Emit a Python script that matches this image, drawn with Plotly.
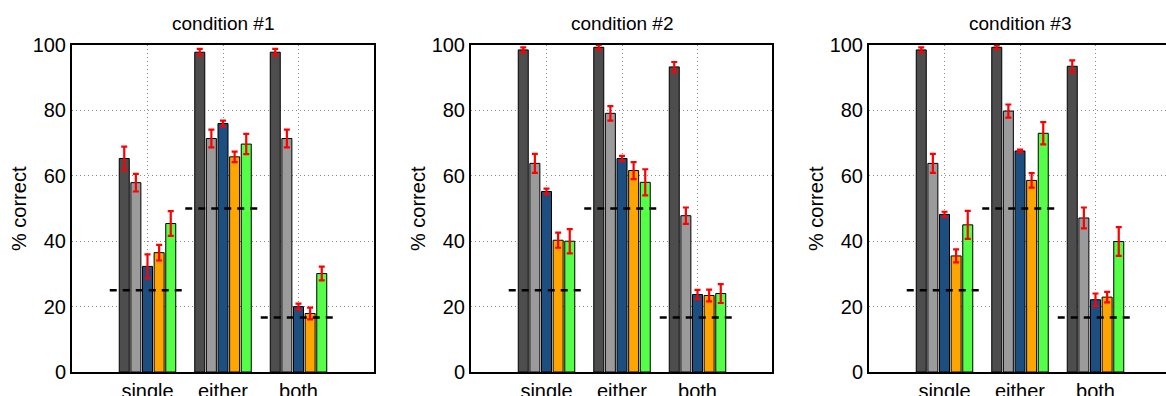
import plotly.graph_objects as go

categories = ["single", "either", "both"]
chance = [25, 50, 16.7]
titles = ["condition #1", "condition #2", "condition #3"]
series_names = ["model A", "model B", "model C", "model D", "model E"]
colors = ["#4d4d4d", "#9b9b9b", "#1d4e80", "#ffa500", "#55ff47"]

# condition 1
c1_vals = [
    [65.3, 97.8, 97.8],
    [57.9, 71.4, 71.4],
    [32.3, 76.0, 20.0],
    [36.5, 65.8, 17.9],
    [45.4, 69.7, 30.1],
]
c1_err = [
    [3.6, 1.0, 1.0],
    [2.7, 2.7, 2.7],
    [3.7, 0.9, 0.9],
    [2.4, 1.6, 1.8],
    [3.8, 3.1, 2.1],
]
# condition 2
c2_vals = [
    [98.5, 99.3, 93.3],
    [63.8, 79.1, 47.8],
    [55.2, 65.3, 23.7],
    [40.3, 61.6, 23.4],
    [40.0, 58.0, 24.0],
]
c2_err = [
    [0.8, 0.7, 1.5],
    [2.9, 2.2, 2.5],
    [0.9, 0.8, 1.4],
    [2.3, 2.6, 1.8],
    [3.7, 4.0, 2.9],
]
# condition 3
c3_vals = [
    [98.5, 99.3, 93.5],
    [63.8, 79.8, 47.1],
    [48.2, 67.6, 22.1],
    [35.5, 58.6, 22.9],
    [45.0, 73.0, 39.9],
]
c3_err = [
    [0.8, 0.6, 1.8],
    [2.9, 2.0, 3.2],
    [0.8, 0.4, 1.9],
    [2.0, 2.2, 1.6],
    [4.3, 3.4, 4.4],
]

conds = [(c1_vals, c1_err), (c2_vals, c2_err), (c3_vals, c3_err)]

W, H = 1166, 396
panel_px = [(72, 374), (471, 772), (869, 1166)]
px_per_unit = 302 / 4.0
FONT = "Liberation Sans"

fig = go.Figure()
xpos = [1, 2, 3]

for p, (vals, errs) in enumerate(conds):
    xa = "x" if p == 0 else f"x{p+1}"
    ya = "y" if p == 0 else f"y{p+1}"
    for s in range(5):
        fig.add_trace(go.Bar(
            x=xpos, y=vals[s], name=series_names[s],
            marker=dict(color=colors[s], line=dict(color="black", width=1)),
            error_y=dict(type="data", array=errs[s], color="red", thickness=2.2, width=3),
            xaxis=xa, yaxis=ya, showlegend=False,
            offsetgroup=str(s),
        ))
    for i, c in enumerate(chance):
        fig.add_trace(go.Scatter(
            x=[xpos[i] - 0.5, xpos[i] + 0.5], y=[c, c], mode="lines",
            line=dict(color="black", width=2.5, dash="7px,6px"),
            xaxis=xa, yaxis=ya, showlegend=False, hoverinfo="skip",
        ))

layout = dict(
    width=W, height=H,
    margin=dict(l=0, r=0, t=45, b=24),
    paper_bgcolor="white", plot_bgcolor="white",
    barmode="group", bargap=0.23, bargroupgap=0.14,
    font=dict(family=FONT, size=19, color="black"),
    showlegend=False,
)

annotations = []
for p in range(3):
    x0, x1 = panel_px[p]
    xkey = "xaxis" if p == 0 else f"xaxis{p+1}"
    ykey = "yaxis" if p == 0 else f"yaxis{p+1}"
    xmax = (x1 - x0) / px_per_unit
    layout[xkey] = dict(
        domain=[x0 / W, x1 / W], range=[0, xmax],
        tickmode="array", tickvals=xpos, ticktext=categories,
        showgrid=True, gridcolor="#8a8a8a", griddash="1px,3px", gridwidth=1,
        showline=True, linecolor="black", linewidth=2, mirror=True,
        ticks="", tickfont=dict(family=FONT, size=20), zeroline=False,
        automargin=False,
        anchor="y" if p == 0 else f"y{p+1}",
    )
    layout[ykey] = dict(
        domain=[0, 1], range=[0, 100],
        tickvals=[0, 20, 40, 60, 80, 100],
        showgrid=True, gridcolor="#8a8a8a", griddash="1px,3px", gridwidth=1,
        showline=True, linecolor="black", linewidth=2, mirror=(p < 2),
        ticks="", tickfont=dict(family=FONT, size=20), zeroline=False,
        automargin=False,
        anchor="x" if p == 0 else f"x{p+1}",
    )
    annotations.append(dict(
        text=titles[p], xref="paper", yref="paper",
        x=(x0 + x0 + 302) / 2 / W, y=1 + 22 / 327,
        showarrow=False, font=dict(family=FONT, size=19), xanchor="center", yanchor="middle",
    ))
    annotations.append(dict(
        text="% correct", xref="paper", yref="paper",
        x=(x0 - 53.5) / W, y=0.5, textangle=-90,
        showarrow=False, font=dict(family=FONT, size=20), xanchor="center", yanchor="middle",
    ))

layout["annotations"] = annotations
fig.update_layout(**layout)
fig.write_html(
    "out.html",
    config={"displayModeBar": False, "staticPlot": True},
    post_script="document.body.style.margin='0';document.body.style.overflow='hidden';",
)
